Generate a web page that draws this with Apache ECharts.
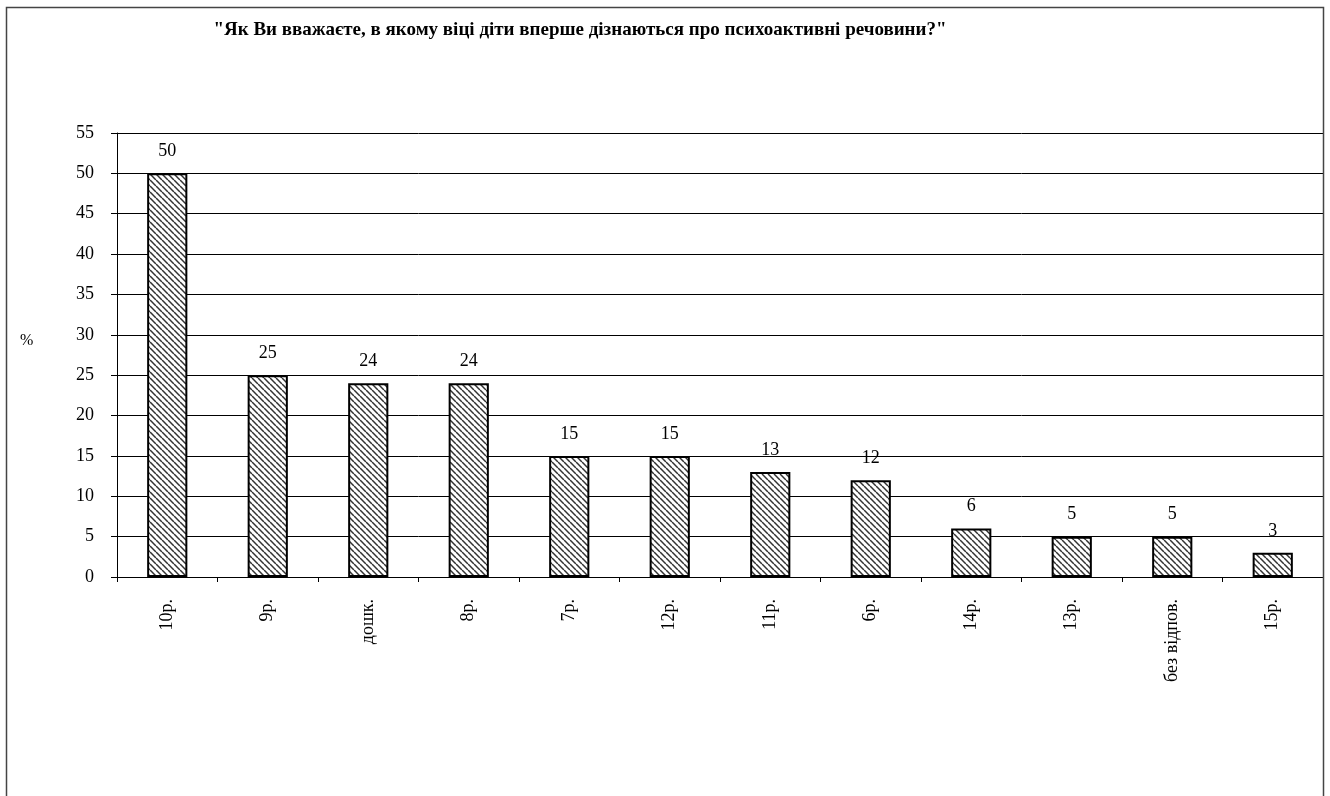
<!DOCTYPE html>
<html><head><meta charset="utf-8">
<script src="https://cdn.jsdelivr.net/npm/echarts@6/dist/echarts.min.js"></script>
<style>html,body{margin:0;padding:0;background:#fff}#c{width:1330px;height:796px}</style>
</head><body><div id="c"></div>
<script>
const categories = ['10р.','9р.','дошк.','8р.','7р.','12р.','11р.','6р.','14р.','13р.','без відпов.','15р.'];
const values = [50,25,24,24,15,15,13,12,6,5,5,3];
const yTicks = {min:0, max:55, interval:5};
const titleText = '"Як Ви вважаєте, в якому віці діти вперше дізнаються про психоактивні речовини?"';
const yName = '%';

function hatch(){
  const s = 6;
  const c = document.createElement('canvas');
  c.width = s; c.height = s;
  const g = c.getContext('2d');
  g.fillStyle = '#fff'; g.fillRect(0,0,s,s);
  g.strokeStyle = '#333'; g.lineWidth = 1.5;
  for (let k=-1;k<=1;k++){
    g.beginPath();
    g.moveTo(k*s, 0); g.lineTo(k*s + s, s);
    g.stroke();
  }
  return c;
}
const font = '"Liberation Serif","Times New Roman",serif';
const chart = echarts.init(document.getElementById('c'), null, {renderer:'canvas'});
chart.setOption({
  animation:false,
  backgroundColor:'#fff',
  title:{text:titleText, left:575, textAlign:'center', top:16,
    textStyle:{fontFamily:font, fontSize:19, fontWeight:'bold', color:'#000'}},
  grid:{left:117, right:7, top:133, bottom:219},
  xAxis:{type:'category', data:categories,
    axisLine:{lineStyle:{color:'#000', width:1}},
    axisTick:{show:true, alignWithLabel:false, length:5, lineStyle:{color:'#000'}},
    axisLabel:{rotate:90, margin:22, fontFamily:font, fontSize:18, color:'#000'}},
  yAxis:{type:'value', min:yTicks.min, max:yTicks.max, interval:yTicks.interval,
    axisLine:{show:true, lineStyle:{color:'#000', width:1}},
    axisTick:{show:true, length:6, lineStyle:{color:'#000'}},
    axisLabel:{margin:23, fontFamily:font, fontSize:18, color:'#000'},
    splitLine:{show:true, lineStyle:{color:'#000', width:1}}},
  graphic:[
    {type:'rect', shape:{x:6.5, y:7.5, width:1317, height:800}, style:{fill:null, stroke:'#444', lineWidth:1.5}, z:100},
    {type:'text', left:20, top:333, style:{text:yName, font:'16px '+font, fill:'#000'}}
  ],
  series:[{type:'bar', data:values, barWidth:'40%',
    itemStyle:{color:{image:hatch(), repeat:'repeat'}, borderColor:'#000', borderWidth:2},
    label:{show:true, position:'top', distance:13, fontFamily:font, fontSize:18, color:'#000'}}]
});
</script></body></html>
